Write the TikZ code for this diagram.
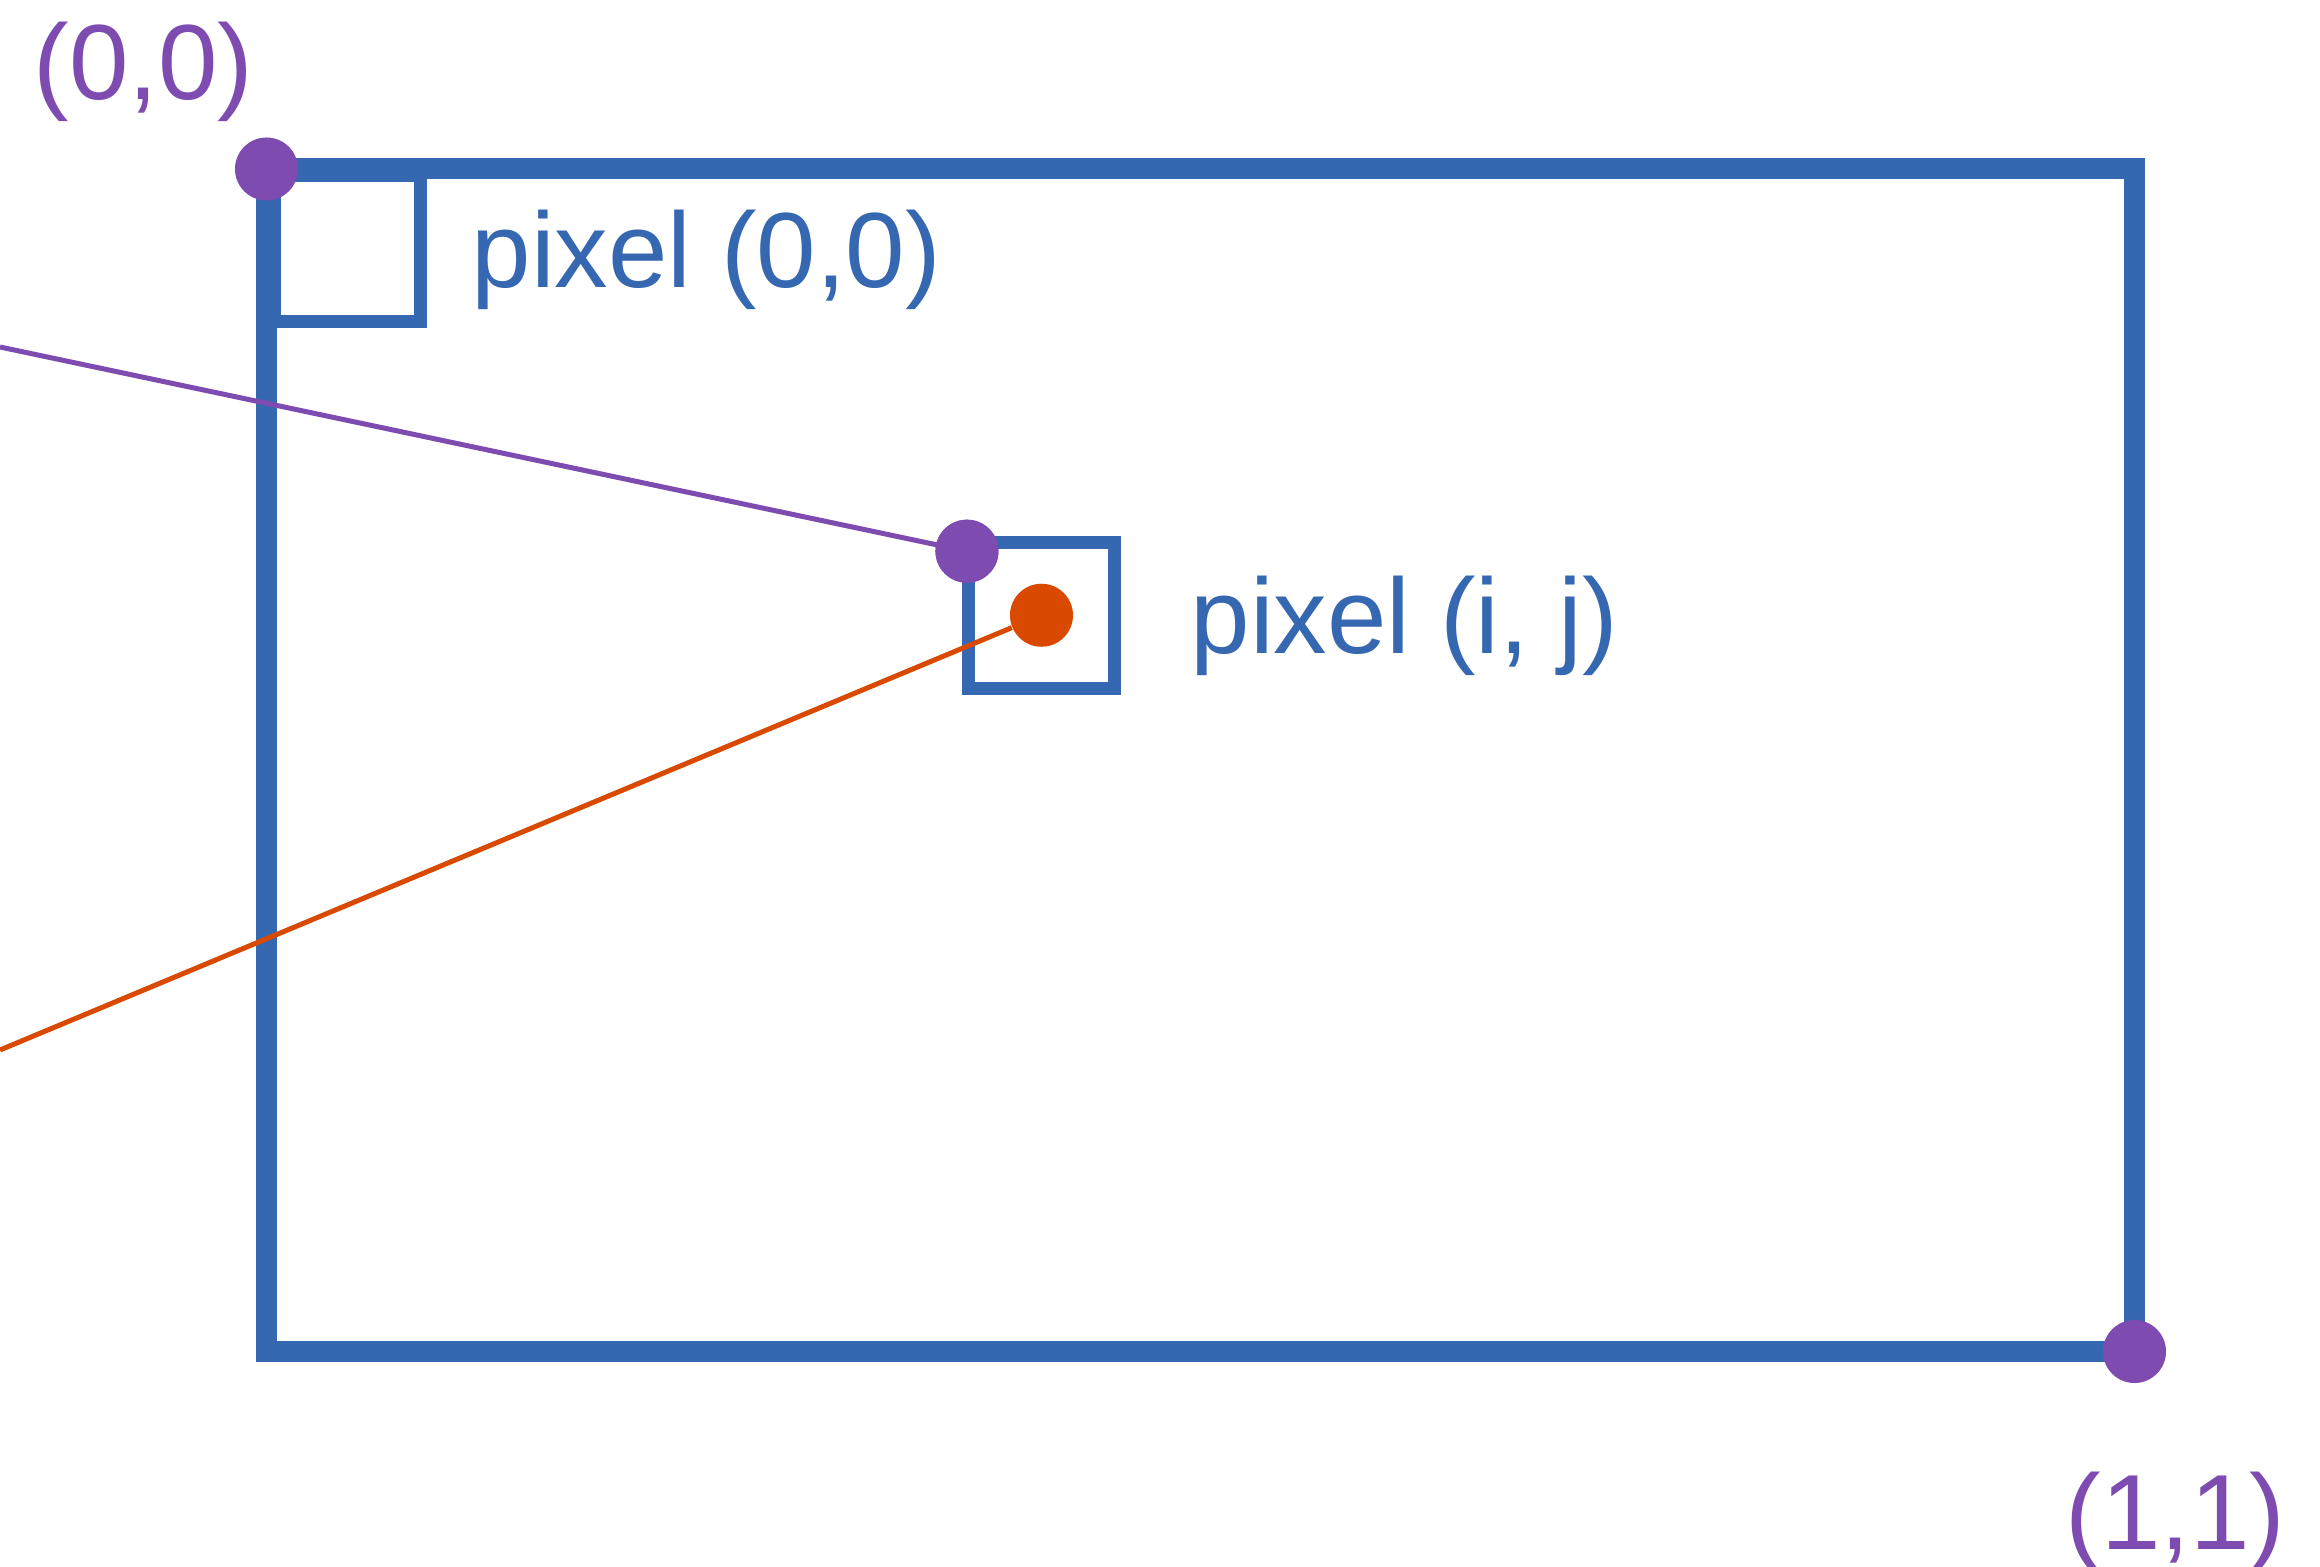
\documentclass[tikz,border=0pt]{standalone}
\usepackage{fontspec}
\setmainfont{Liberation Sans}
\definecolor{rblue}{HTML}{3667B1}
\definecolor{rpurple}{HTML}{7E4BB1}
\definecolor{rorange}{HTML}{D94A00}
\tikzset{
  frame/.style={draw=rblue, line width=5.97pt, miter limit=10},
  pixbox/.style={draw=rblue, line width=3.8pt, minimum size=1.46cm, inner sep=0, outer sep=0},
  dotp/.style={circle, fill=rpurple, minimum size=0.63cm, inner sep=0},
  doto/.style={circle, fill=rorange, minimum size=0.63cm, inner sep=0},
  ray/.style={line width=1.42pt},
  lbl/.style={anchor=base west, inner sep=0, font=\fontsize{30.4}{36}\selectfont},
}
\begin{document}
\begin{tikzpicture}[x=0.01cm, y=-0.01cm]
\useasboundingbox (0,0) rectangle (2320,1567);
% main image rectangle
\draw[frame] (266.5,169) rectangle (2134.5,1351.5);
% pixel boxes
\node[pixbox, anchor=north west] (p00) at (274.5,175.5) {};
\node[pixbox] (pij) at (1041.5,615.25) {};
% ray end coordinates (free ends at left border)
\coordinate (rayp) at (0,347);
\coordinate (rayo) at (0,1050);
% dots
\node[dotp] (c00) at (266.5,169) {};
\node[dotp] (c11) at (2134.5,1351.5) {};
\node[dotp] (cij) at ([shift={(-1.5,9)}]pij.north west) {};
\node[doto] (cc) at (pij.center) {};
% rays
\draw[ray, rpurple] (rayp) -- (cij.center);
\draw[ray, rorange] (rayo) -- (cc);
% redraw dot on top of its ray
\node[dotp] at (cij) {};
% labels
\node[lbl, text=rpurple] (l00) at (33,100) {(0,0)};
\node[lbl, text=rblue] (lp00) at (471,288) {pixel (0,0)};
\node[lbl, text=rblue] (lpij) at (1190,654) {pixel (i, j)};
\node[lbl, text=rpurple] (l11) at (2065,1549) {(1,1)};
\end{tikzpicture}
\end{document}
